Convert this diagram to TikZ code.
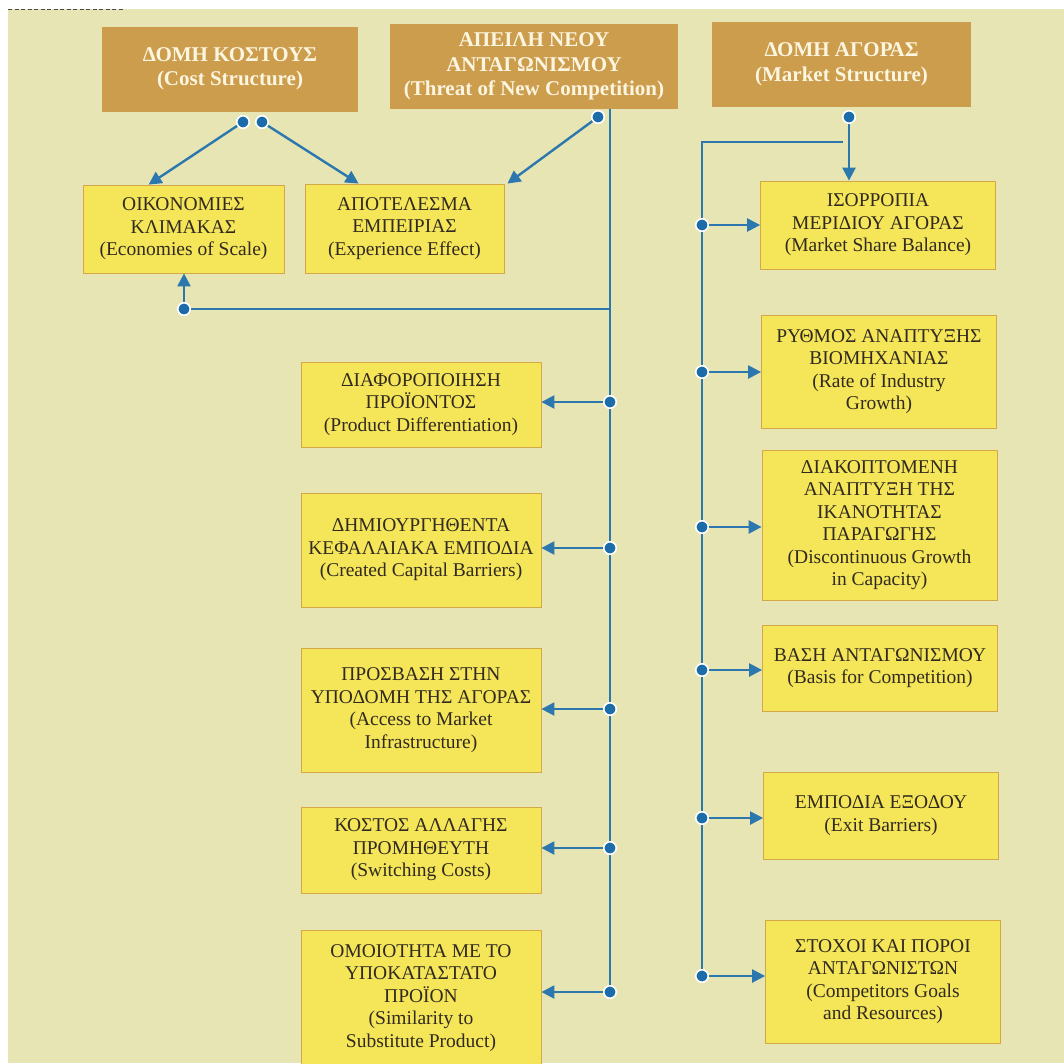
\documentclass[tikz,border=0pt]{standalone}
\usepackage{fontspec}
\setmainfont{Liberation Serif}
\usetikzlibrary{arrows.meta}

\definecolor{pagebg}{RGB}{231,229,180}
\definecolor{brownfill}{RGB}{204,157,76}
\definecolor{cream}{RGB}{252,245,224}
\definecolor{yellowfill}{RGB}{244,230,88}
\definecolor{yellowedge}{RGB}{212,168,72}
\definecolor{inkdark}{RGB}{50,42,32}
\definecolor{linkblue}{RGB}{44,120,174}
\definecolor{dotblue}{RGB}{28,108,170}

\tikzset{
  brownbox/.style={fill=brownfill, text=cream, align=center, inner sep=0pt,
    minimum height=85, font=\bfseries\fontsize{21}{24.5}\selectfont},
  yellowbox/.style={fill=yellowfill, draw=yellowedge, line width=0.8pt, text=inkdark,
    align=center, inner sep=0pt, minimum width=236, font=\fontsize{19.5}{22.5}\selectfont},
  link/.style={draw=linkblue, line width=2.4pt},
  arr/.style={link, -{Triangle[length=13pt,width=13pt]}},
  dotmark/.style={circle, fill=dotblue, draw=white, line width=1.6pt,
    minimum size=12.5pt, inner sep=0pt}
}

\begin{document}
\begin{tikzpicture}[x=1pt,y=-1pt]
\useasboundingbox (0,0) rectangle (1064,1063);
% page
\fill[pagebg] (8,9) rectangle (1064,1063);
\draw[black!70, line width=1pt, dash pattern=on 4pt off 2.5pt] (8,9) -- (124,9);

% top row
\node[brownbox, minimum width=256] (cost) at (230,69)
  {ΔΟΜΗ ΚΟΣΤΟΥΣ\\(Cost Structure)};
\node[brownbox, minimum width=288] (threat) at (534,66.5)
  {ΑΠΕΙΛΗ ΝΕΟΥ\\ΑΝΤΑΓΩΝΙΣΜΟΥ\\(Threat of New Competition)};
\node[brownbox, minimum width=259] (market) at (841.5,64.5)
  {ΔΟΜΗ ΑΓΟΡΑΣ\\(Market Structure)};

% cost structure factors
\node[yellowbox, minimum width=201, minimum height=88] (econ) at (183.5,229)
  {ΟΙΚΟΝΟΜΙΕΣ\\ΚΛΙΜΑΚΑΣ\\(Economies of Scale)};
\node[yellowbox, minimum width=199, minimum height=89] (exper) at (404.5,228.5)
  {ΑΠΟΤΕΛΕΣΜΑ\\ΕΜΠΕΙΡΙΑΣ\\(Experience Effect)};

% entry barriers
\node[yellowbox, minimum width=240, minimum height=85] (prodiff) at (421,404.5)
  {ΔΙΑΦΟΡΟΠΟΙΗΣΗ\\ΠΡΟΪΟΝΤΟΣ\\(Product Differentiation)};
\node[yellowbox, minimum width=240, minimum height=114] (capbar) at (421,550)
  {ΔΗΜΙΟΥΡΓΗΘΕΝΤΑ\\ΚΕΦΑΛΑΙΑΚΑ ΕΜΠΟΔΙΑ\\(Created Capital Barriers)};
\node[yellowbox, minimum width=240, minimum height=124] (access) at (421,710)
  {ΠΡΟΣΒΑΣΗ ΣΤΗΝ\\ΥΠΟΔΟΜΗ ΤΗΣ ΑΓΟΡΑΣ\\(Access to Market\\Infrastructure)};
\node[yellowbox, minimum width=240, minimum height=86] (switch) at (421,850)
  {ΚΟΣΤΟΣ ΑΛΛΑΓΗΣ\\ΠΡΟΜΗΘΕΥΤΗ\\(Switching Costs)};
\node[yellowbox, minimum width=240, minimum height=136] (simil) at (421,998)
  {ΟΜΟΙΟΤΗΤΑ ΜΕ ΤΟ\\ΥΠΟΚΑΤΑΣΤΑΤΟ\\ΠΡΟΪΟΝ\\(Similarity to\\Substitute Product)};

% market structure factors
\node[yellowbox, minimum width=235, minimum height=88] (share) at (878,225)
  {ΙΣΟΡΡΟΠΙΑ\\ΜΕΡΙΔΙΟΥ ΑΓΟΡΑΣ\\(Market Share Balance)};
\node[yellowbox, minimum width=235, minimum height=113] (rate) at (879,371.5)
  {ΡΥΘΜΟΣ ΑΝΑΠΤΥΞΗΣ\\ΒΙΟΜΗΧΑΝΙΑΣ\\(Rate of Industry\\Growth)};
\node[yellowbox, minimum width=235, minimum height=150] (disc) at (879.5,525)
  {ΔΙΑΚΟΠΤΟΜΕΝΗ\\ΑΝΑΠΤΥΞΗ ΤΗΣ\\ΙΚΑΝΟΤΗΤΑΣ\\ΠΑΡΑΓΩΓΗΣ\\(Discontinuous Growth\\in Capacity)};
\node[yellowbox, minimum width=235, minimum height=86] (basis) at (880,668)
  {ΒΑΣΗ ΑΝΤΑΓΩΝΙΣΜΟΥ\\(Basis for Competition)};
\node[yellowbox, minimum width=235, minimum height=87] (exit) at (881,815.5)
  {ΕΜΠΟΔΙΑ ΕΞΟΔΟΥ\\(Exit Barriers)};
\node[yellowbox, minimum width=235, minimum height=123] (goals) at (883,981.5)
  {ΣΤΟΧΟΙ ΚΑΙ ΠΟΡΟΙ\\ΑΝΤΑΓΩΝΙΣΤΩΝ\\(Competitors Goals\\and Resources)};

% connector points
\coordinate (cA) at (243,122);
\coordinate (cB) at (262,122);
\coordinate (tD) at (598,117);
\coordinate (mD) at (849,117);
\coordinate (eD) at (184,309);
\coordinate (lTop) at (610,109);
\coordinate (lBot) at (610,992);
\coordinate (mTurn) at (843,142);
\coordinate (rTop) at (702,142);
\coordinate (rBot) at (702,976);
\coordinate (l1) at (610,402);
\coordinate (l2) at (610,548);
\coordinate (l3) at (610,709);
\coordinate (l4) at (610,848);
\coordinate (l5) at (610,992);
\coordinate (r1) at (702,225);
\coordinate (r2) at (702,372);
\coordinate (r3) at (702,527);
\coordinate (r4) at (702,670);
\coordinate (r5) at (702,818);
\coordinate (r6) at (702,976);

% cost structure links
\draw[arr] (cA) -- ([xshift=66pt]econ.north west);
\draw[arr] (cB) -- ([xshift=54pt]exper.north west);

% threat of new competition links
\draw[arr] (tD) -- ([xshift=3pt]exper.north east);
\draw[link] (lTop) -- (lBot);
\draw[link] (eD) -- (eD -| lTop);
\draw[arr] (eD) -- (eD |- econ.south);
\foreach \p/\b in {l1/prodiff, l2/capbar, l3/access, l4/switch, l5/simil}
  \draw[arr] (\p) -- (\p -| \b.east);

% market structure links
\draw[arr] (mD) -- (mD |- share.north);
\draw[link] (mTurn) -- (rTop) -- (rBot);
\foreach \p/\b in {r1/share, r2/rate, r3/disc, r4/basis, r5/exit, r6/goals}
  \draw[arr] (\p) -- (\p -| \b.west);

% junction dots
\foreach \p in {cA, cB, tD, mD, eD, l1, l2, l3, l4, l5, r1, r2, r3, r4, r5, r6}
  \node[dotmark] at (\p) {};
\end{tikzpicture}
\end{document}
